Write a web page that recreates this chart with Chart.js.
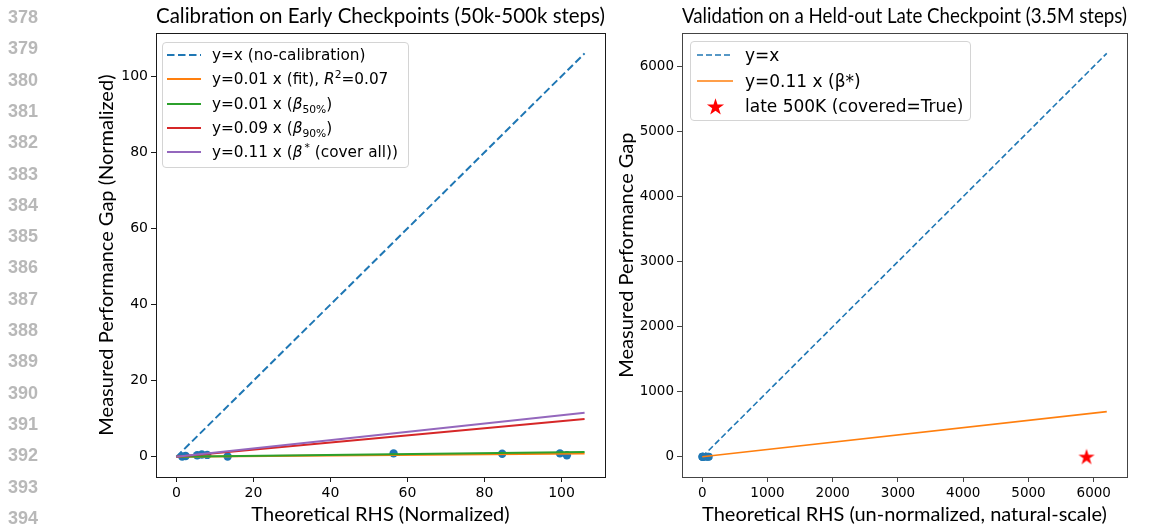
<!DOCTYPE html>
<html>
<head>
<meta charset="utf-8">
<script src="https://cdn.jsdelivr.net/npm/chart.js@4.4.0/dist/chart.umd.min.js"></script>
<style>
  html, body { margin: 0; padding: 0; background: #fff; }
  #page { position: relative; width: 1158px; height: 529px; overflow: hidden; font-family: "DejaVu Sans", sans-serif; }
  .panel { position: absolute; top: 0; }
  .ln { position: absolute; left: 0; width: 38px; text-align: right; font: bold 18px "Liberation Sans", Arial, sans-serif; color: #b8b8b8; line-height: 20px; }
  .legend { position: absolute; box-sizing: border-box; border: 1px solid #d4d4d4; border-radius: 4px; background: rgba(255,255,255,0.85); z-index: 2; }
  .row { position: absolute; height: 24px; line-height: 24px; white-space: nowrap; color: #000; }
  .row sub, .row sup { font-size: 70%; line-height: 0; }
  .sw { position: absolute; }
</style>
</head>
<body>
<div id="page">
  <div class="panel" style="left:0;width:615px"><canvas id="left" width="615" height="529"></canvas></div>
  <div class="panel" style="left:615px;width:543px"><canvas id="right" width="543" height="529"></canvas></div>
  <div class="legend" id="legL" style="left:162px;top:42px;width:247px;height:126px"></div>
  <div class="legend" id="legR" style="left:690px;top:41px;width:281px;height:80px"></div>
</div>
<script>
// ---- left panel: calibration on early checkpoints (normalized) ----
const earlyX = [1.5, 2.4, 5.4, 6.6, 8.0, 13.3, 56.4, 84.6, 99.6, 101.4];
const earlyY = [0.1, 0.2, 0.4, 0.6, 0.5, 0.1, 0.9, 0.8, 0.9, 0.4];
const leftLineX = [0, 106];
const leftSlopes = [1, 0.008, 0.012, 0.094, 0.109];
const leftColors = ['#1f77b4', '#ff7f0e', '#2ca02c', '#d62728', '#9467bd'];
const leftLabels = [
  'y=x (no-calibration)',
  'y=0.01 x (fit), <i>R</i><sup>2</sup>=0.07',
  'y=0.01 x (<i>β</i><sub>50%</sub>)',
  'y=0.09 x (<i>β</i><sub>90%</sub>)',
  'y=0.11 x (<i>β</i><sup>&thinsp;*</sup> (cover all))'
];
const leftTicks = [0, 20, 40, 60, 80, 100];
const leftRange = [-5.3, 111.3];

// ---- right panel: held-out late checkpoint (un-normalized) ----
const heldX = [2, 5, 8, 13, 56, 85, 100];
const heldY = [0, 0.2, 0.5, 0.1, 0.9, 0.8, 0.6];
const lateLineX = [0, 6200];
const rightSlopes = [1, 0.112];
const rightColors = ['#1f77b4', '#ff7f0e'];
const lateX = [5890];
const lateY = [5];
const rightLabels = ['y=x', 'y=0.11 x (β*)', 'late 500K (covered=True)'];
const rightTicks = [0, 1000, 2000, 3000, 4000, 5000, 6000];
const rightRange = [-310, 6510];

Chart.defaults.color = '#000';
Chart.defaults.font.family = '"DejaVu Sans", sans-serif';

// matplotlib-like box around the axes
const framePlugin = {
  id: 'frame',
  afterDraw(chart, args, o) {
    const { ctx, chartArea: a } = chart;
    ctx.save();
    ctx.strokeStyle = o.color || '#000';
    ctx.lineWidth = 1;
    ctx.strokeRect(Math.round(a.left) + 0.5, Math.round(a.top) + 0.5,
      Math.round(a.right - a.left), Math.round(a.bottom - a.top));
    ctx.restore();
  }
};

function makeStar(size, color) {
  const c = document.createElement('canvas');
  c.width = size; c.height = size;
  const g = c.getContext('2d');
  const R = size / 2 - 0.5, r = R * 0.382, cx = size / 2, cy = size / 2 + 0.8;
  g.beginPath();
  for (let i = 0; i < 10; i++) {
    const rad = i % 2 ? r : R;
    const ang = -Math.PI / 2 + i * Math.PI / 5;
    g.lineTo(cx + rad * Math.cos(ang), cy + rad * Math.sin(ang));
  }
  g.closePath();
  g.fillStyle = color;
  g.fill();
  return c;
}

function axes(o) {
  const tickFont = { size: o.tickSize };
  const titleFont = { family: 'Lato, "Open Sans", sans-serif', size: 20 };
  return {
    x: {
      type: 'linear', min: o.range[0], max: o.range[1],
      afterBuildTicks: s => { s.ticks = o.ticks.map(v => ({ value: v })); },
      afterFit: s => { s.height = 52; s.paddingLeft = 0; s.paddingRight = 0; },
      border: { display: false },
      grid: { drawOnChartArea: false, tickLength: 5, tickColor: o.axisColor, tickWidth: 1 },
      ticks: { font: tickFont, padding: 3, maxRotation: 0, callback: v => String(v) },
      title: { display: true, text: o.xTitle, font: titleFont, padding: { top: 0, bottom: 2 } }
    },
    y: {
      type: 'linear', min: o.range[0], max: o.range[1],
      afterBuildTicks: s => { s.ticks = o.ticks.map(v => ({ value: v })); },
      afterFit: s => { s.width = o.yWidth; s.paddingTop = 0; s.paddingBottom = 0; },
      border: { display: false },
      grid: { drawOnChartArea: false, tickLength: 5, tickColor: o.axisColor, tickWidth: 1 },
      ticks: { font: tickFont, padding: 3, callback: v => String(v) },
      title: { display: true, text: o.yTitle, font: titleFont, padding: { top: o.yTitlePad, bottom: 0 } }
    }
  };
}

function baseOptions(o) {
  return {
    responsive: false,
    animation: false,
    devicePixelRatio: 1,
    layout: { padding: { left: o.padLeft, right: o.padRight, top: 0, bottom: 0 } },
    plugins: {
      legend: { display: false },
      tooltip: { enabled: false },
      frame: { color: o.axisColor },
      title: {
        display: true, text: o.title, fullSize: false, color: '#000',
        font: { family: 'Lato, "Open Sans", sans-serif', size: 21, weight: 'normal' },
        padding: { top: 4, bottom: 4 }
      }
    },
    scales: axes(o)
  };
}

// left chart
const leftSets = leftSlopes.map((b, i) => ({
  data: leftLineX.map(x => ({ x: x, y: b * x })),
  showLine: true,
  borderColor: leftColors[i],
  borderWidth: 2,
  borderDash: i === 0 ? [7.5, 3.5] : [],
  pointRadius: 0,
  order: 5 - i
}));
leftSets.push({
  data: earlyX.map((x, i) => ({ x: x, y: earlyY[i] })),
  backgroundColor: '#1f77b4', borderWidth: 0, pointRadius: 4.2, order: 10
});

new Chart(document.getElementById('left'), {
  type: 'scatter',
  data: { datasets: leftSets },
  options: baseOptions({
    title: 'Calibration on Early Checkpoints (50k-500k steps)',
    xTitle: 'Theoretical RHS (Normalized)',
    yTitle: 'Measured Performance Gap (Normalized)',
    range: leftRange, ticks: leftTicks, tickSize: 14,
    padLeft: 80, padRight: 10, yWidth: 76, yTitlePad: 15, axisColor: '#1a1a1a'
  }),
  plugins: [framePlugin]
});

// right chart
const starImg = makeStar(18, '#ff0000');
const rightSets = rightSlopes.map((b, i) => ({
  data: lateLineX.map(x => ({ x: x, y: b * x })),
  showLine: true,
  borderColor: rightColors[i],
  borderWidth: 1.6,
  borderDash: i === 0 ? [6, 3] : [],
  pointRadius: 0,
  order: 5 - i
}));
rightSets.push({
  data: heldX.map((x, i) => ({ x: x, y: heldY[i] })),
  backgroundColor: '#1f77b4', borderWidth: 0, pointRadius: 4, order: 10
});
rightSets.push({
  data: lateX.map((x, i) => ({ x: x, y: lateY[i] })),
  pointStyle: starImg, pointRadius: 9, order: 0
});

new Chart(document.getElementById('right'), {
  type: 'scatter',
  data: { datasets: rightSets },
  options: baseOptions({
    title: 'Validation on a Held-out Late Checkpoint (3.5M steps)',
    xTitle: 'Theoretical RHS (un-normalized, natural-scale)',
    yTitle: 'Measured Performance Gap',
    range: rightRange, ticks: rightTicks, tickSize: 13.5,
    padLeft: 0, padRight: 31, yWidth: 67, yTitlePad: 0, axisColor: '#444'
  }),
  plugins: [framePlugin]
});

// html legends (rich text for sub/superscripts)
function swatch(color, dash, width, lw) {
  const ns = 'http://www.w3.org/2000/svg';
  const svg = document.createElementNS(ns, 'svg');
  svg.setAttribute('width', width); svg.setAttribute('height', 4);
  const l = document.createElementNS(ns, 'line');
  l.setAttribute('x1', 0); l.setAttribute('y1', 2); l.setAttribute('x2', width); l.setAttribute('y2', 2);
  l.setAttribute('stroke', color); l.setAttribute('stroke-width', lw);
  if (dash) l.setAttribute('stroke-dasharray', dash);
  svg.appendChild(l);
  return svg;
}

function legend(el, labels, markers, o) {
  labels.forEach((txt, i) => {
    const cy = o.firstY + i * o.dy;
    const m = markers[i];
    let sw;
    if (m.star) {
      sw = makeStar(19, m.color);
      sw.className = 'sw';
      sw.style.left = (o.swX + o.swW / 2 - 9.5) + 'px';
      sw.style.top = (cy - 9.5) + 'px';
    } else {
      sw = swatch(m.color, m.dash, o.swW, o.lw);
      sw.setAttribute('class', 'sw');
      sw.style.left = o.swX + 'px';
      sw.style.top = (cy - 2) + 'px';
    }
    el.appendChild(sw);
    const row = document.createElement('div');
    row.className = 'row';
    row.style.left = o.textX + 'px';
    row.style.top = (cy - 12) + 'px';
    row.style.fontSize = o.fontSize + 'px';
    row.innerHTML = txt;
    el.appendChild(row);
  });
}

legend(document.getElementById('legL'), leftLabels,
  leftColors.map((c, i) => ({ color: c, dash: i === 0 ? '7.5 3.5' : null })),
  { firstY: 12, dy: 24.3, swX: 4, swW: 34, textX: 49, lw: 2, fontSize: 15.3 });

legend(document.getElementById('legR'), rightLabels,
  [{ color: rightColors[0], dash: '6 3' }, { color: rightColors[1] }, { star: true, color: '#ff0000' }],
  { firstY: 13, dy: 25.5, swX: 6, swW: 36, textX: 54, lw: 1.6, fontSize: 17 });

// page line numbers of the source document
const page = document.getElementById('page');
for (let i = 0; i <= 16; i++) {
  const d = document.createElement('div');
  d.className = 'ln';
  d.textContent = String(378 + i);
  d.style.top = (17 + i * 31.3 - 10) + 'px';
  page.appendChild(d);
}
</script>
</body>
</html>
